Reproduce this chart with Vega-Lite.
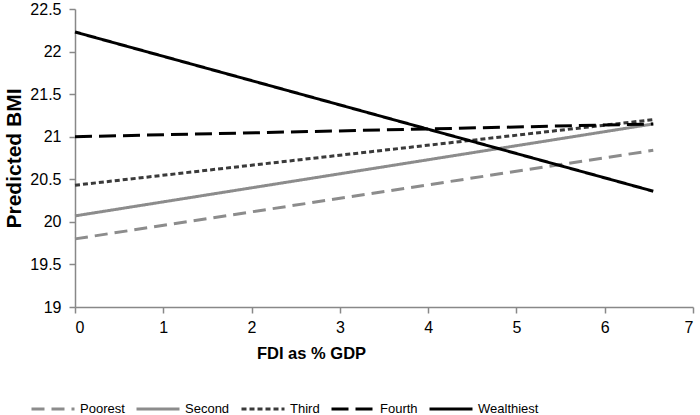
{
  "$schema": "https://vega.github.io/schema/vega-lite/v6.json",
  "width": 618,
  "height": 298,
  "autosize": "none",
  "padding": {"left": 75, "top": 9, "right": 7, "bottom": 108},
  "background": "white",
  "config": {
    "view": {"stroke": null},
    "font": "Liberation Sans",
    "axis": {"grid": false, "domainColor": "#888888", "tickColor": "#888888", "labelColor": "#000000", "titleColor": "#000000", "labelFont": "Liberation Sans", "titleFont": "Liberation Sans", "labelFontSize": 16, "titleFontSize": 16, "titleFontWeight": "bold", "domainWidth": 1.5, "tickWidth": 1.5}
  },
  "data": {
    "values": [
      {"fdi": 0, "bmi": 19.8, "group": "Poorest"},
      {"fdi": 6.55, "bmi": 20.84, "group": "Poorest"},
      {"fdi": 0, "bmi": 20.07, "group": "Second"},
      {"fdi": 6.55, "bmi": 21.15, "group": "Second"},
      {"fdi": 0, "bmi": 20.43, "group": "Third"},
      {"fdi": 6.55, "bmi": 21.2, "group": "Third"},
      {"fdi": 0, "bmi": 21.0, "group": "Fourth"},
      {"fdi": 6.55, "bmi": 21.15, "group": "Fourth"},
      {"fdi": 0, "bmi": 22.23, "group": "Wealthiest"},
      {"fdi": 6.55, "bmi": 20.36, "group": "Wealthiest"}
    ]
  },
  "mark": {"type": "line", "strokeWidth": 3, "strokeCap": "butt"},
  "encoding": {
    "x": {
      "field": "fdi", "type": "quantitative",
      "scale": {"domain": [0, 7], "nice": false},
      "axis": {"values": [0, 1, 2, 3, 4, 5, 6, 7], "title": "FDI as % GDP", "titleFontSize": 16.5, "tickSize": 6, "labelPadding": 6, "titleX": 236, "titleY": 46, "titleBaseline": "middle", "titleAlign": "center", "titleAnchor": null}
    },
    "y": {
      "field": "bmi", "type": "quantitative",
      "scale": {"domain": [19, 22.5], "nice": false, "zero": false},
      "axis": {"values": [19, 19.5, 20, 20.5, 21, 21.5, 22, 22.5], "format": "~g", "title": "Predicted BMI", "titleFontSize": 21, "tickSize": 6, "labelPadding": 8, "titlePadding": 5}
    },
    "color": {
      "field": "group", "type": "nominal",
      "sort": ["Poorest", "Second", "Third", "Fourth", "Wealthiest"],
      "scale": {"domain": ["Poorest", "Second", "Third", "Fourth", "Wealthiest"], "range": ["#8c8c8c", "#8c8c8c", "#3a3a3a", "#000000", "#000000"]},
      "legend": {"title": null, "orient": "none", "direction": "horizontal", "legendX": -45, "legendY": 377, "symbolType": "stroke", "symbolSize": 1849, "symbolStrokeWidth": 3, "labelFontSize": 13, "labelFont": "Liberation Sans", "labelColor": "#000000", "columnPadding": 5, "labelOffset": 4, "padding": 0}
    },
    "strokeDash": {
      "field": "group", "type": "nominal",
      "sort": ["Poorest", "Second", "Third", "Fourth", "Wealthiest"],
      "scale": {"domain": ["Poorest", "Second", "Third", "Fourth", "Wealthiest"], "range": [[13, 7], [1, 0], [5, 3], [17, 7], [1, 0]]}
    }
  }
}
